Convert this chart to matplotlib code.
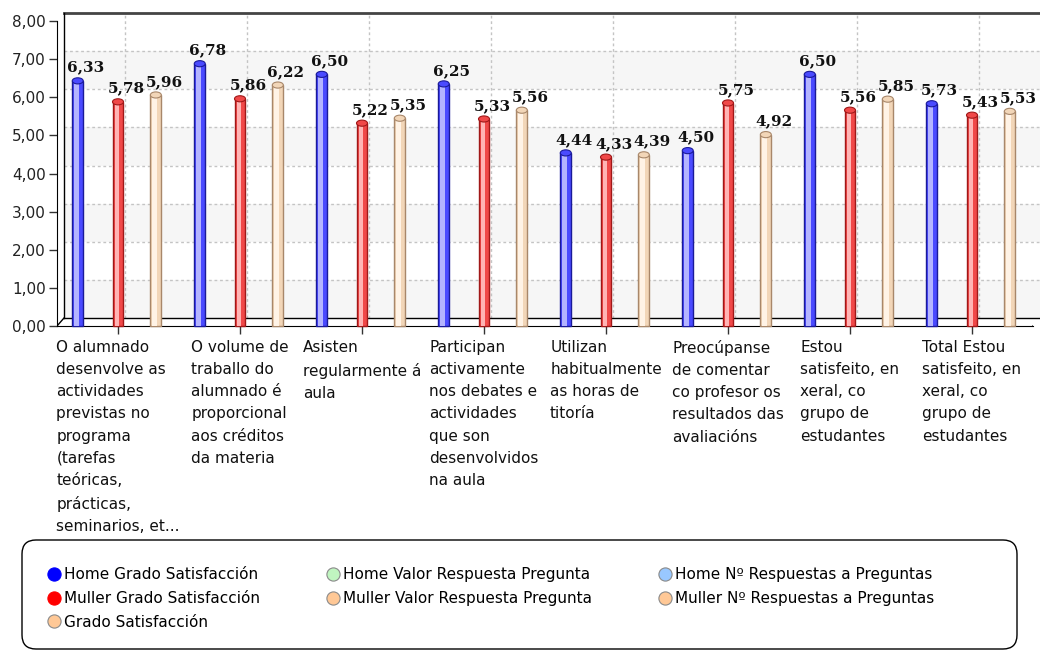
import matplotlib
matplotlib.use("Agg")
import matplotlib.pyplot as plt
from matplotlib.lines import Line2D
from matplotlib.patches import Ellipse, FancyBboxPatch, Rectangle
from matplotlib.transforms import IdentityTransform, offset_copy

categories = [
    "O alumnado\ndesenvolve as\nactividades\nprevistas no\nprograma\n(tarefas\nteóricas,\nprácticas,\nseminarios, et...",
    "O volume de\ntraballo do\nalumnado é\nproporcional\naos créditos\nda materia",
    "Asisten\nregularmente á\naula",
    "Participan\nactivamente\nnos debates e\nactividades\nque son\ndesenvolvidos\nna aula",
    "Utilizan\nhabitualmente\nas horas de\ntitoría",
    "Preocúpanse\nde comentar\nco profesor os\nresultados das\navaliacións",
    "Estou\nsatisfeito, en\nxeral, co\ngrupo de\nestudantes",
    "Total Estou\nsatisfeito, en\nxeral, co\ngrupo de\nestudantes",
]
home_grado = [6.33, 6.78, 6.50, 6.25, 4.44, 4.50, 6.50, 5.73]
muller_grado = [5.78, 5.86, 5.22, 5.33, 4.33, 5.75, 5.56, 5.43]
grado = [5.96, 6.22, 5.35, 5.56, 4.39, 4.92, 5.85, 5.53]
y_ticks = [0, 1, 2, 3, 4, 5, 6, 7, 8]

legend_labels = [
    "Home Grado Satisfacción",
    "Muller Grado Satisfacción",
    "Grado Satisfacción",
    "Home Valor Respuesta Pregunta",
    "Muller Valor Respuesta Pregunta",
    "Home Nº Respuestas a Preguntas",
    "Muller Nº Respuestas a Preguntas",
]
legend_colors = ["#0000ff", "#ff0000", "#ffc896", "#c0f5c0", "#ffc896", "#99c8ff", "#ffc896"]

# (values, offset in category, base, highlight, edge)
series = [
    (home_grado, -0.33, "#4a4aff", "#b4b4ff", "#1a1a99"),
    (muller_grado, 0.0, "#f04848", "#ffb4b4", "#a01818"),
    (grado, 0.31, "#f2d6b8", "#fff3e6", "#a8876a"),
]

plt.rcParams["font.family"] = "DejaVu Sans"
fig = plt.figure(figsize=(10.4, 6.51), dpi=100)
ax = fig.add_axes([57 / 1040, (651 - 326) / 651, 976 / 1040, 305 / 651])
ax.patch.set_visible(False)
n = len(categories)
ax.set_xlim(-0.5, n - 0.5)
ax.set_ylim(0, 8)

# back wall, shifted for the 3d look
back = offset_copy(ax.transData, fig, x=7, y=8, units="dots")
for lo in range(0, 8, 2):
    ax.add_patch(Rectangle((-0.5, lo), n, 1, transform=back, facecolor="#f6f6f6",
                           edgecolor="none", clip_on=False, zorder=0))
for yv in y_ticks[1:-1]:
    ax.plot([-0.5, n - 0.5], [yv, yv], transform=back, color="#c4c4c4", lw=1,
            ls=(0, (2, 2)), clip_on=False, zorder=1)
for i in range(n):
    ax.plot([i, i], [0, 8], transform=back, color="#c4c4c4", lw=1,
            ls=(0, (2, 2)), clip_on=False, zorder=1)
ax.plot([-0.5, n - 0.5], [8, 8], transform=back, color="#444444", lw=2, clip_on=False, zorder=2)
ax.plot([-0.5, -0.5], [0, 8], transform=back, color="black", lw=1, clip_on=False, zorder=2)
ax.plot([-0.5, n - 0.5], [0, 0], transform=back, color="black", lw=1, clip_on=False, zorder=2)
for px, py in [(-0.5, 8), (-0.5, 0), (n - 0.5, 0)]:
    fx, fy = ax.transData.transform((px, py))
    ax.add_line(Line2D([fx, fx + 7], [fy, fy + 8], transform=IdentityTransform(),
                       color="black", lw=1, zorder=2))

for spine in ["top", "right"]:
    ax.spines[spine].set_visible(False)
ax.spines["left"].set_zorder(2)
ax.spines["bottom"].set_zorder(2)

# cylinders
w = 0.09
for vals, off, base, light, edge in series:
    xs = [i + off for i in range(n)]
    tops = [v + 0.1 for v in vals]
    ax.bar(xs, tops, width=w, color=base, edgecolor=edge, lw=1, zorder=3, clip_on=False)
    ax.bar([x - w * 0.12 for x in xs], tops, width=w * 0.38, color=light, lw=0,
           zorder=4, clip_on=False)
    for x, v in zip(xs, vals):
        ax.add_patch(Ellipse((x, v + 0.1), w, 0.16, facecolor=base, edgecolor=edge,
                             lw=0.8, zorder=5, clip_on=False))
        ax.annotate(f"{v:.2f}".replace(".", ","), (x, v), xytext=(8, 13),
                    textcoords="offset pixels", ha="center", va="baseline",
                    fontsize=11, fontweight="bold", family="DejaVu Serif",
                    color="#111111", zorder=6, annotation_clip=False)

ax.set_yticks(y_ticks)
ax.set_yticklabels([f"{t:.2f}".replace(".", ",") for t in y_ticks], fontsize=11, color="#222222")
ax.set_xticks(range(n))
ax.set_xticklabels(categories, fontsize=11, multialignment="left", linespacing=1.6,
                   color="#111111")
ax.tick_params(axis="both", direction="out", length=6, width=1, color="#333333")
ax.tick_params(axis="x", pad=4)
ax.tick_params(axis="y", pad=2)

# legend
fig.patches.append(FancyBboxPatch((22, 2), 995, 109, boxstyle="round,pad=0,rounding_size=14",
                                  transform=IdentityTransform(), facecolor="white",
                                  edgecolor="black", lw=1))
handles = [Line2D([], [], marker="o", ls="", markersize=9.5, markerfacecolor=c,
                  markeredgecolor="#8a8a8a" if c not in ("#0000ff", "#ff0000") else c,
                  markeredgewidth=0.8) for c in legend_colors]
fig.legend(handles, legend_labels, loc="upper left", bbox_to_anchor=(46 / 1040, (651 - 567) / 651),
           ncol=3, frameon=False, fontsize=11, handletextpad=0.15, handlelength=1.0,
           columnspacing=4.3, labelspacing=0.58, borderpad=0, borderaxespad=0)

fig.savefig("out.png", dpi=100)
